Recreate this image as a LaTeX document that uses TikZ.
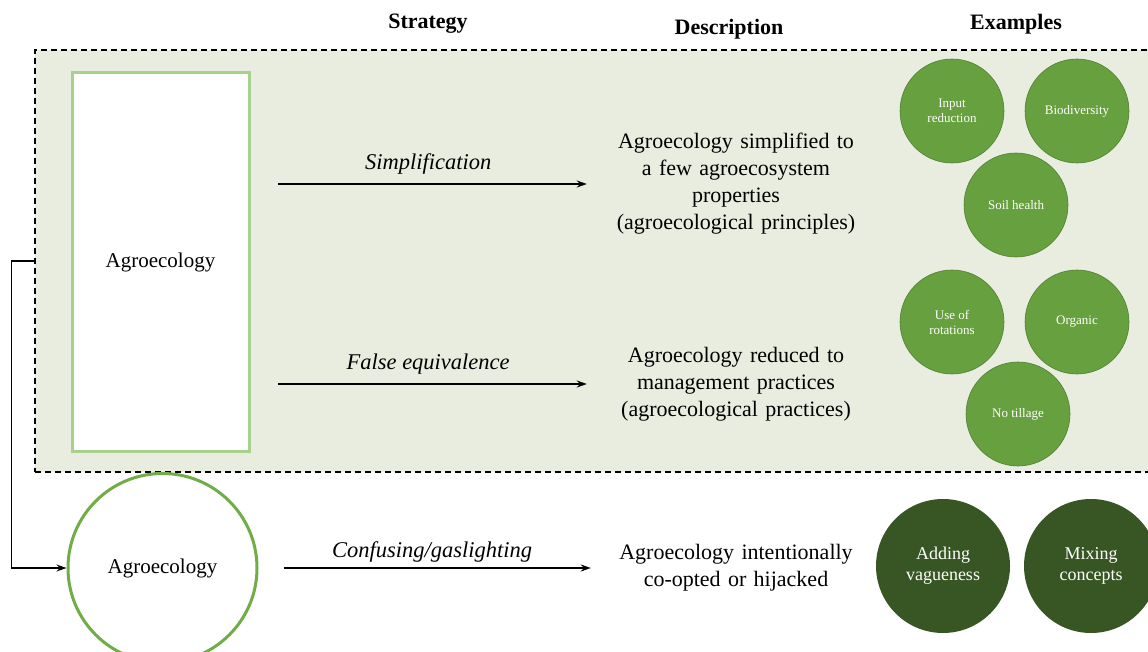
\documentclass[tikz,border=0pt]{standalone}
\usepackage{fontspec}
\setmainfont{Liberation Serif}
\usepackage{xcolor}
\usetikzlibrary{arrows.meta, positioning, calc}

\definecolor{bgframe}{HTML}{E8EDE0}
\definecolor{lightgreen}{HTML}{A9D18E}
\definecolor{midgreen}{HTML}{67A03F}
\definecolor{ringgreen}{HTML}{70AD47}
\definecolor{darkgreen}{HTML}{375623}

\tikzset{
  head/.style={font=\fontsize{22}{26}\selectfont\bfseries},
  strat/.style={font=\fontsize{22.5}{26}\selectfont\itshape},
  desc/.style={font=\fontsize{22}{27}\selectfont, align=center, text width=260pt, inner sep=0pt},
  link/.style={-{Stealth[length=10pt,width=7pt]}, line width=1.8pt},
  exsmall/.style={circle, fill=midgreen, draw=midgreen!80!black, line width=0.6pt,
    minimum size=104pt, inner sep=1pt, text=white, align=center,
    font=\fontsize{13}{15}\selectfont},
  exbig/.style={circle, fill=darkgreen, minimum size=134pt, inner sep=1pt,
    text=white, align=center, font=\fontsize{18}{21}\selectfont}
}

\begin{document}
\begin{tikzpicture}[x=1pt, y=-1pt]
\useasboundingbox (0,0) rectangle (1148,652);
\clip (0,0) rectangle (1148,652);

% column titles
\node[head] (hstrat) at (428,24) {Strategy};
\node[head] (hdesc)  at (729,29) {Description};
\node[head] (hex)    at (1016,24) {Examples};

% dashed frame
\node[draw, dashed, dash pattern=on 6pt off 4pt, line width=1.4pt, fill=bgframe,
      minimum width=1125pt, minimum height=422pt, inner sep=0pt]
  (frame) at (597.5,261) {};

% agroecology boxes
\node[draw=lightgreen, fill=white, line width=3pt, minimum width=177pt,
      minimum height=378pt, font=\fontsize{21}{25}\selectfont]
  (agro1) at (160.5,262) {Agroecology};
\node[circle, draw=ringgreen, fill=white, line width=3pt, minimum size=189pt,
      font=\fontsize{21}{25}\selectfont]
  (agro2) at (162.5,568) {Agroecology};

% descriptions
\node[desc] (desc1) at (736,184) {Agroecology simplified to\\a few agroecosystem\\properties\\(agroecological principles)};
\node[desc] (desc2) at (736,384) {Agroecology reduced to\\management practices\\(agroecological practices)};
\node[desc] (desc3) at (736,568) {Agroecology intentionally\\co-opted or hijacked};

% strategies
\draw[link, shorten <=27.5pt, shorten >=19pt] (agro1.east |- desc1.west) -- (desc1.west)
  node[strat, midway, above=5pt] {Simplification};
\draw[link, shorten <=27.5pt, shorten >=19pt] (agro1.east |- desc2.west) -- (desc2.west)
  node[strat, midway, above=5pt] {False equivalence};
\draw[link, shorten <=25pt, shorten >=15pt] (agro2.east |- desc3.west) -- (desc3.west)
  node[strat, midway, above=1pt] {Confusing/gaslighting};

% from frame to circle
\draw[link, line width=1.5pt] (frame.west) -- ++(-23,0) |- (agro2.west);

% examples
\node[exsmall] (input) at (952,111) {Input\\reduction};
\node[exsmall] (biodiv) at (1077,111) {Biodiversity};
\node[exsmall] (soil) at (1016,205) {Soil health};

\node[exsmall] (rotat) at (952,322) {Use of\\rotations};
\node[exsmall] (organic) at (1077,322) {Organic};
\node[exsmall] (notill) at (1018,414) {No tillage};

\node[exbig] (vague) at (943,566) {Adding\\vagueness};
\node[exbig] (mixing) at (1091,566) {Mixing\\concepts};
\end{tikzpicture}
\end{document}
